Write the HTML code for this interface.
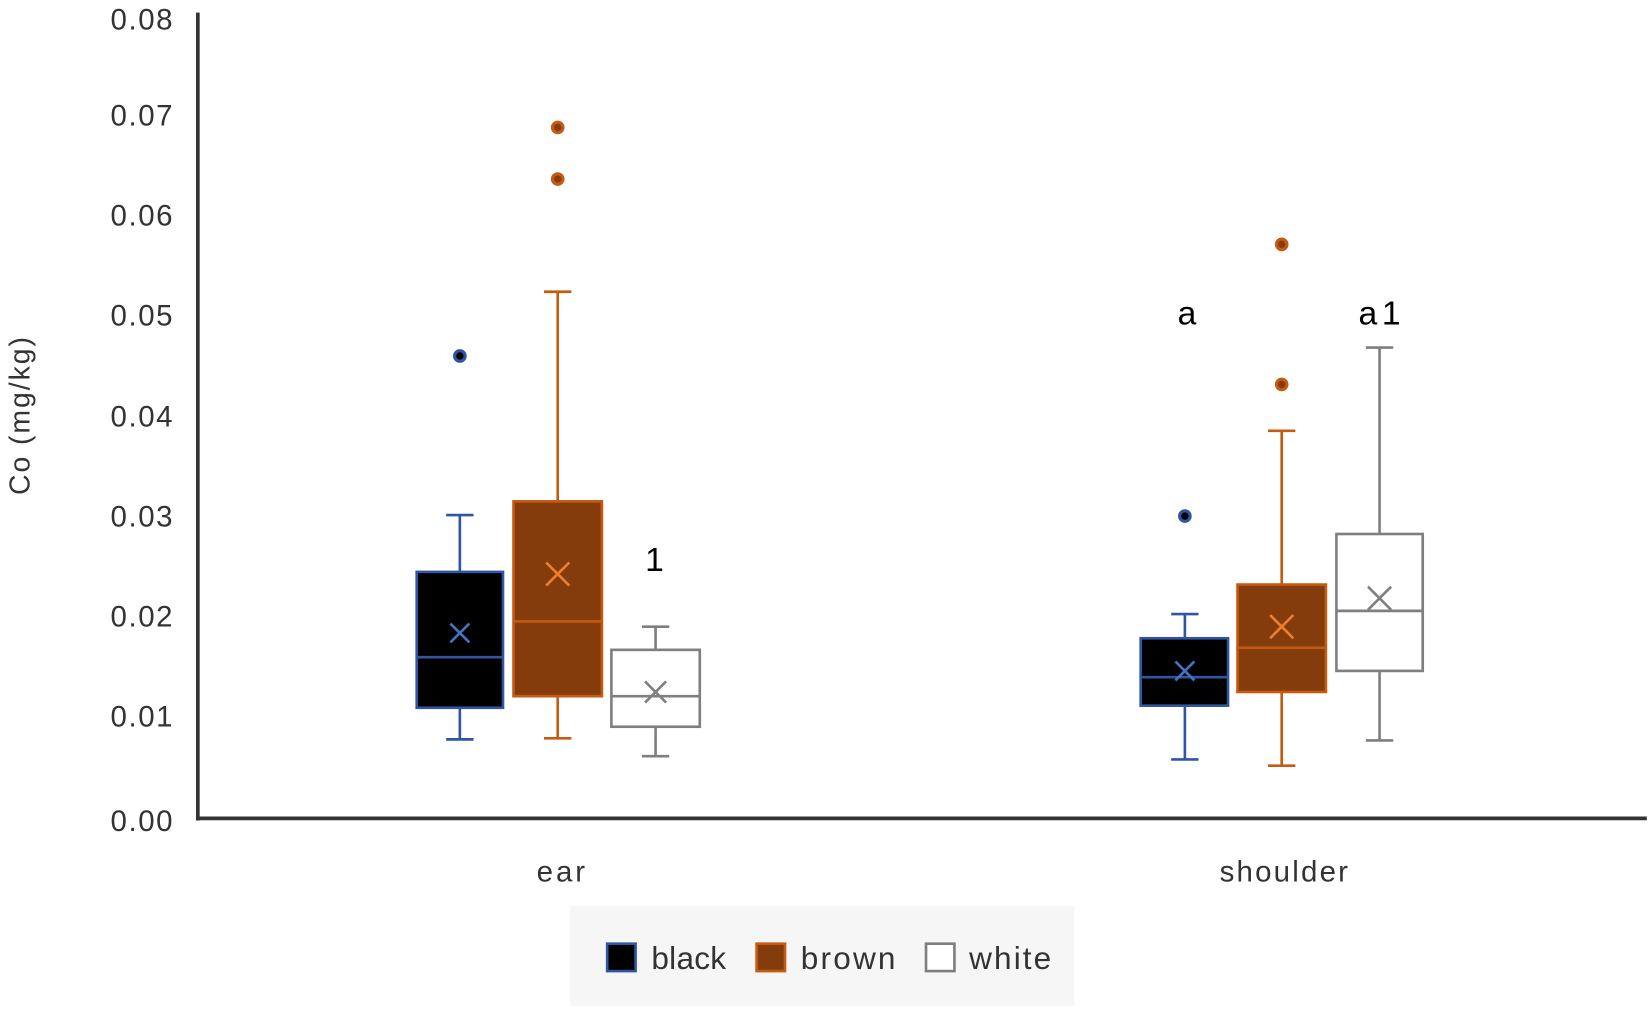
<!DOCTYPE html>
<html><head><style>html,body{margin:0;padding:0;background:#fff;}svg{display:block;}</style></head>
<body>
<svg width="1650" height="1009" viewBox="0 0 1568 958" preserveAspectRatio="none" xmlns="http://www.w3.org/2000/svg" font-family="Liberation Sans, sans-serif">
<rect width="1568" height="958" fill="#fff"/>
<g font-size="28" fill="#333" text-anchor="end">
<text x="164" y="28" textLength="59">0.08</text>
<text x="164" y="119" textLength="59">0.07</text>
<text x="164" y="214" textLength="59">0.06</text>
<text x="164" y="309" textLength="59">0.05</text>
<text x="164" y="405" textLength="59">0.04</text>
<text x="164" y="500" textLength="59">0.03</text>
<text x="164" y="595" textLength="59">0.02</text>
<text x="164" y="690" textLength="59">0.01</text>
<text x="164" y="789" textLength="59">0.00</text>
</g>
<text transform="translate(28,395) rotate(-90)" font-size="27" fill="#333" text-anchor="middle" textLength="150">Co (mg/kg)</text>
<line x1="188" y1="12" x2="188" y2="779" stroke="#333" stroke-width="3.5"/>
<line x1="187" y1="777" x2="1565" y2="777" stroke="#333" stroke-width="3.5"/>
<g stroke-width="2.5">
<g stroke="#2f55a4"><line x1="437" y1="489" x2="437" y2="543"/><line x1="437" y1="672" x2="437" y2="702"/><line x1="424" y1="489" x2="450" y2="489"/><line x1="424" y1="702" x2="450" y2="702"/>
<rect x="396" y="543" width="82" height="129" fill="#000"/><line x1="396" y1="624" x2="478" y2="624"/>
<path d="M428 592l18 18M446 592l-18 18" stroke="#4472c4"/><circle cx="437" cy="338" r="5" fill="#000" stroke-width="3"/></g>
<g stroke="#c55a11"><line x1="530" y1="277" x2="530" y2="476"/><line x1="530" y1="661" x2="530" y2="701"/><line x1="517" y1="277" x2="543" y2="277"/><line x1="517" y1="701" x2="543" y2="701"/>
<rect x="488" y="476" width="84" height="185" fill="#843c0c"/><line x1="488" y1="590" x2="572" y2="590"/>
<path d="M519 534l22 22M541 534l-22 22" stroke="#ed7d31"/><circle cx="530" cy="121" r="5" fill="#843c0c" stroke-width="3"/><circle cx="530" cy="170" r="5" fill="#843c0c" stroke-width="3"/></g>
<g stroke="#7f7f7f"><line x1="623" y1="595" x2="623" y2="617"/><line x1="623" y1="690" x2="623" y2="718"/><line x1="610" y1="595" x2="636" y2="595"/><line x1="610" y1="718" x2="636" y2="718"/>
<rect x="581" y="617" width="84" height="73" fill="#fff"/><line x1="581" y1="661" x2="665" y2="661"/>
<path d="M613 647l20 20M633 647l-20 20"/></g>
<g stroke="#2f55a4"><line x1="1126" y1="583" x2="1126" y2="606"/><line x1="1126" y1="670" x2="1126" y2="721"/><line x1="1113" y1="583" x2="1139" y2="583"/><line x1="1113" y1="721" x2="1139" y2="721"/>
<rect x="1084" y="606" width="83" height="64" fill="#000"/><line x1="1084" y1="643" x2="1167" y2="643"/>
<path d="M1117 628l18 18M1135 628l-18 18" stroke="#4472c4"/><circle cx="1126" cy="490" r="5" fill="#000" stroke-width="3"/></g>
<g stroke="#c55a11"><line x1="1218" y1="409" x2="1218" y2="555"/><line x1="1218" y1="657" x2="1218" y2="727"/><line x1="1205" y1="409" x2="1231" y2="409"/><line x1="1205" y1="727" x2="1231" y2="727"/>
<rect x="1176" y="555" width="84" height="102" fill="#843c0c"/><line x1="1176" y1="615" x2="1260" y2="615"/>
<path d="M1207 584l22 22M1229 584l-22 22" stroke="#ed7d31"/><circle cx="1218" cy="232" r="5" fill="#843c0c" stroke-width="3"/><circle cx="1218" cy="365" r="5" fill="#843c0c" stroke-width="3"/></g>
<g stroke="#7f7f7f"><line x1="1311" y1="330" x2="1311" y2="507"/><line x1="1311" y1="637" x2="1311" y2="703"/><line x1="1298" y1="330" x2="1324" y2="330"/><line x1="1298" y1="703" x2="1324" y2="703"/>
<rect x="1270" y="507" width="82" height="130" fill="#fff"/><line x1="1270" y1="580" x2="1352" y2="580"/>
<path d="M1300 557l22 22M1322 557l-22 22"/></g>
</g>
<g font-size="32" fill="#000" text-anchor="middle">
<text x="622" y="542">1</text><text x="1128" y="308">a</text><text x="1311" y="308" textLength="40">a1</text>
</g>
<g font-size="28" fill="#333" text-anchor="middle">
<text x="533" y="837" textLength="46">ear</text><text x="1220" y="837" textLength="122">shoulder</text>
</g>
<rect x="542" y="860" width="479" height="95" fill="#f6f6f6"/>
<g stroke-width="2.5">
<rect x="577" y="896" width="27" height="26" fill="#000" stroke="#2f55a4"/>
<rect x="719" y="896" width="27" height="26" fill="#843c0c" stroke="#c55a11"/>
<rect x="880" y="896" width="27" height="26" fill="#fff" stroke="#7f7f7f"/>
</g>
<g font-size="30" fill="#333">
<text x="619" y="920" textLength="71">black</text><text x="761" y="920" textLength="90">brown</text><text x="921" y="920" textLength="78">white</text>
</g>
</svg>
</body></html>
